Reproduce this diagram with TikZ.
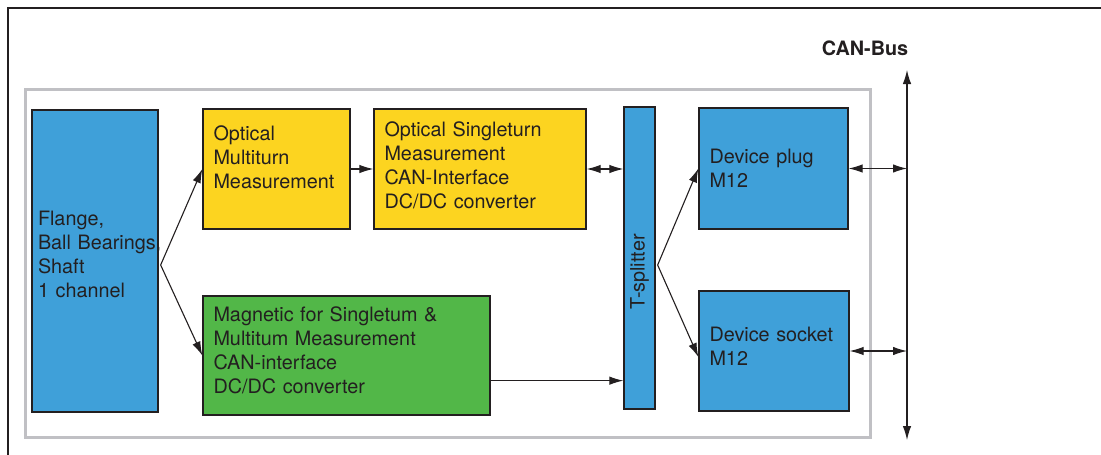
\documentclass[tikz,border=0pt]{standalone}
\usepackage{fontspec}
\setmainfont{TeX Gyre Heros}
\usetikzlibrary{arrows.meta}

\definecolor{encblue}{RGB}{63,160,217}
\definecolor{encyellow}{RGB}{252,212,32}
\definecolor{encgreen}{RGB}{82,183,72}
\definecolor{framegray}{RGB}{192,192,196}
\definecolor{ink}{RGB}{35,31,32}

\tikzset{
  blk/.style={draw=ink, line width=1.3pt, inner xsep=10.5pt, inner ysep=0pt,
              align=left, text=ink, font=\fontsize{19.8}{24}\selectfont},
  arr/.style={draw=ink, line width=1.1pt, -{Latex[length=14pt,width=8.5pt]}},
  biarr/.style={draw=ink, line width=1.1pt,
                {Latex[length=14pt,width=8.5pt]}-{Latex[length=14pt,width=8.5pt]}},
}

\begin{document}
\begin{tikzpicture}[x=1pt, y=-1pt]
  \useasboundingbox (0,0) rectangle (1101,455);

  % outer frame and encoder housing
  \draw[ink, line width=1.3pt] (8,455) -- (8,8) -- (1101,8);
  \draw[framegray, line width=3pt] (25,89) rectangle (870,437);

  % function blocks (trailing empty lines lift the text a little)
  \node[blk, fill=encblue, minimum width=126, minimum height=302,
        text width=114, inner xsep=6pt] (flange) at (95,261)
        {Flange,\\\mbox{Ball Bearings,}\\Shaft\\1 channel\\[-11pt]\mbox{}};
  \node[blk, fill=encyellow, minimum width=147, minimum height=120,
        text width=126] (mt) at (276.5,169)
        {Optical\\Multiturn\\Measurement\\\mbox{}};
  \node[blk, fill=encyellow, minimum width=212, minimum height=120,
        text width=191] (st) at (480,169)
        {Optical Singleturn\\Measurement\\CAN-Interface\\DC/DC converter\\[-16pt]\mbox{}};
  \node[blk, fill=encgreen, minimum width=287, minimum height=119,
        text width=266] (mag) at (346.5,355.5)
        {Magnetic for Singletum \&\\Multitum Measurement\\CAN-interface\\DC/DC converter\\[-14pt]\mbox{}};
  \node[blk, fill=encblue, minimum width=31, minimum height=302,
        inner xsep=0pt] (tsp) at (639.5,258) {};
  \node[text=ink, rotate=90, font=\fontsize{19.8}{24}\selectfont]
        (tsp-label) at (639.5,272) {T-splitter};
  \node[blk, fill=encblue, minimum width=149, minimum height=121,
        text width=128] (plug) at (773.5,168.5) {Device plug\\M12};
  \node[blk, fill=encblue, minimum width=150, minimum height=120,
        text width=129] (socket) at (774,351) {Device socket\\M12\\[-14pt]\mbox{}};

  % bus line
  \coordinate (bus-top) at (907,70);
  \coordinate (bus-bot) at (907,440);
  \draw[biarr] (bus-bot) -- (bus-top);
  \node[text=ink, font=\fontsize{19.8}{24}\selectfont\bfseries]
        (bus-label) at (865,48) {CAN-Bus};

  % signal paths
  \coordinate (fan-in) at ([xshift=2pt,yshift=-4pt]flange.east);
  \coordinate (fan-out) at ([xshift=2pt,yshift=-7pt]tsp.east);
  \draw[arr] (fan-in) -- (mt.west);
  \draw[arr] (fan-in) -- (mag.west);
  \draw[arr] (mt.east) -- (mt.east -| st.west);
  \draw[biarr] (st.east) -- (st.east -| tsp.west);
  \draw[arr] ([yshift=35pt]mag.south east) -- ([yshift=35pt]mag.south east -| tsp.west);
  \draw[arr] (fan-out) -- (plug.west);
  \draw[arr] (fan-out) -- ([yshift=-6pt]socket.west);
  \draw[biarr] (plug.east) -- (plug.east -| bus-top);
  \draw[biarr] (socket.east) -- (socket.east -| bus-top);
\end{tikzpicture}
\end{document}
